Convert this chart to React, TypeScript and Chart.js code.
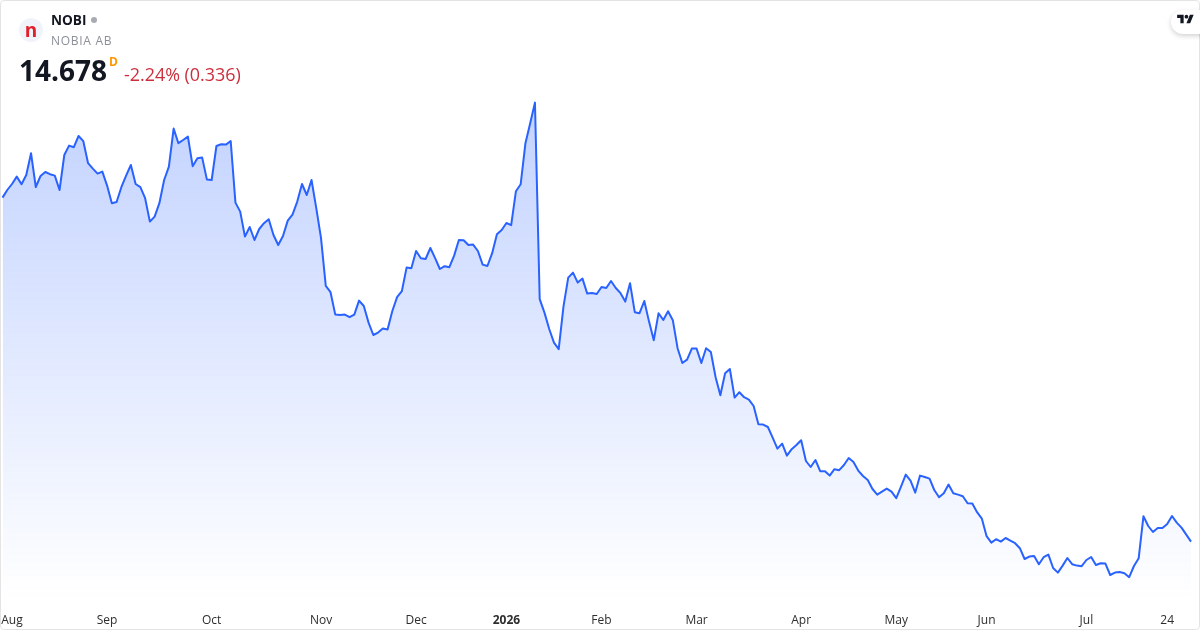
import React, { useEffect, useRef } from "react";
import { Chart, registerables } from "chart.js";

Chart.register(...registerables);

const prices: number[] = [
  31.88, 32.26, 32.56, 32.93, 32.55, 33.01, 34.10, 32.41, 32.96, 33.16, 33.05, 32.98, 32.26, 34.01, 34.48, 34.40, 34.96, 34.70, 33.60, 33.33,
  33.08, 33.18, 32.48, 31.60, 31.66, 32.40, 32.98, 33.51, 32.56, 32.40, 31.85, 30.68, 30.93, 31.60, 32.76, 33.43, 35.33, 34.60, 34.76, 34.93,
  33.45, 33.85, 33.88, 32.78, 32.76, 34.46, 34.55, 34.53, 34.71, 31.63, 31.18, 29.93, 30.41, 29.76, 30.31, 30.60, 30.80, 30.01, 29.51, 29.96,
  30.73, 31.03, 31.68, 32.56, 32.01, 32.76, 31.35, 29.85, 27.47, 27.15, 26.03, 26.01, 26.03, 25.90, 26.03, 26.73, 26.46, 25.63, 25.01, 25.13,
  25.33, 25.28, 26.21, 26.90, 27.20, 28.38, 28.35, 29.21, 28.85, 28.81, 29.36, 28.85, 28.31, 28.45, 28.40, 28.98, 29.76, 29.75, 29.51, 29.53,
  29.21, 28.53, 28.46, 29.10, 30.05, 30.26, 30.61, 30.50, 32.20, 32.55, 34.60, 35.60, 36.63, 26.80, 26.13, 25.31, 24.63, 24.30, 26.43, 27.88,
  28.13, 27.63, 27.83, 27.08, 27.11, 27.06, 27.41, 27.36, 27.71, 27.36, 27.10, 26.68, 27.60, 26.15, 26.10, 26.71, 25.68, 24.75, 26.10, 25.76,
  26.20, 25.75, 24.35, 23.61, 23.78, 24.33, 24.33, 23.61, 24.35, 24.16, 22.90, 22.00, 23.10, 23.31, 21.88, 22.15, 21.90, 21.78, 21.46, 20.55,
  20.53, 20.41, 19.88, 19.33, 19.58, 18.98, 19.30, 19.51, 19.75, 18.71, 18.41, 18.76, 18.20, 18.20, 17.98, 18.30, 18.25, 18.51, 18.86, 18.66,
  18.23, 17.96, 17.76, 17.31, 17.03, 17.18, 17.33, 17.18, 16.85, 17.43, 18.03, 17.73, 17.13, 17.98, 17.91, 17.83, 17.26, 16.90, 17.10, 17.53,
  17.10, 17.03, 16.95, 16.60, 16.58, 16.15, 15.83, 14.95, 14.63, 14.80, 14.68, 14.86, 14.73, 14.60, 14.35, 13.81, 13.93, 13.96, 13.55, 13.90,
  14.03, 13.36, 13.13, 13.48, 13.86, 13.55, 13.48, 13.45, 13.76, 13.91, 13.51, 13.60, 13.58, 13.01, 13.13, 13.16, 13.10, 12.90, 13.46, 13.85,
  15.95, 15.46, 15.16, 15.36, 15.36, 15.56, 15.96, 15.63, 15.38, 15.03, 14.678,
];
const tickLabels: string[] = ["Aug", "Sep", "Oct", "Nov", "Dec", "2026", "Feb", "Mar", "Apr", "May", "Jun", "Jul", "24"];
const tickSessions: number[] = [2, 22, 44, 67, 87, 106, 126, 146, 168, 188, 207, 228, 245];
const symbol = "NOBI";
const companyName = "NOBIA AB";
const lastPrice = "14.678";
const priceChange = "-2.24% (0.336)";

const FONT = '"Open Sans", sans-serif';

export default function App() {
  const ref = useRef<HTMLCanvasElement | null>(null);

  useEffect(() => {
    if (!ref.current) return;
    const chart = new Chart(ref.current, {
      type: "line",
      data: {
        labels: prices.map((_, i) => String(i)),
        datasets: [
          {
            data: prices,
            borderColor: "#2962ff",
            borderWidth: 2,
            borderJoinStyle: "round",
            pointRadius: 0,
            tension: 0,
            fill: "start",
            backgroundColor: (ctx: any) => {
              const area = ctx.chart.chartArea;
              if (!area) return "rgba(41,98,255,0.15)";
              const g = ctx.chart.ctx.createLinearGradient(0, area.top, 0, area.bottom);
              g.addColorStop(0, "rgba(41,98,255,0.34)");
              g.addColorStop(1, "rgba(41,98,255,0)");
              return g;
            },
          },
        ],
      },
      options: {
        responsive: false,
        animation: false,
        devicePixelRatio: 1,
        layout: { padding: { left: 2.5, right: 9, top: 0, bottom: 0 } },
        plugins: { legend: { display: false }, tooltip: { enabled: false } },
        scales: {
          x: {
            type: "category",
            offset: false,
            grid: { display: false },
            border: { display: false },
            afterBuildTicks: (axis: any) => {
              axis.ticks = tickSessions.map((value) => ({ value }));
            },
            afterFit: (axis: any) => {
              axis.paddingLeft = 0;
              axis.paddingRight = 0;
              axis.height = 30;
            },
            ticks: {
              autoSkip: false,
              maxRotation: 0,
              minRotation: 0,
              padding: 5,
              color: "#2e2e2e",
              font: (ctx: any) => ({
                family: FONT,
                size: 12,
                weight: ctx.tick && ctx.tick.label === "2026" ? "bold" : "normal",
              }),
              callback: (_v: any, i: number) => tickLabels[i],
            },
          },
          y: { display: false, min: 11.76, max: 41.76 },
        },
      },
    } as any);
    return () => chart.destroy();
  }, []);

  return (
    <div style={{ position: "fixed", left: 0, top: 0, width: 1200, height: 630, background: "#fff", overflow: "hidden", fontFamily: FONT }}>
      <canvas ref={ref} width={1200} height={630} style={{ position: "absolute", left: 0, top: 0, width: 1200, height: 630 }} />
      <div style={{ position: "absolute", inset: 0, boxSizing: "border-box", border: "1px solid #e4e4e4", borderRadius: 4, pointerEvents: "none" }} />
      <div style={{ position: "absolute", left: 19, top: 18, width: 24, height: 24, borderRadius: 12, background: "#f0f3fa", color: "#e0202a", fontWeight: 700, fontSize: 19, lineHeight: "24px", textAlign: "center" }}>n</div>
      <div style={{ position: "absolute", left: 51, top: 10, fontSize: 13.6, lineHeight: "19px", fontWeight: 700, color: "#131722" }}>{symbol}</div>
      <div style={{ position: "absolute", left: 91, top: 17, width: 6, height: 6, borderRadius: 3, background: "#a8abb3" }} />
      <div style={{ position: "absolute", left: 51, top: 32, fontSize: 12, lineHeight: "18px", letterSpacing: 0.7, color: "#8c8f98" }}>{companyName}</div>
      <div style={{ position: "absolute", left: 19, top: 51, fontSize: 28, lineHeight: "38px", fontWeight: 700, color: "#131722" }}>{lastPrice}</div>
      <div style={{ position: "absolute", left: 109, top: 53, fontSize: 12, lineHeight: "17px", fontWeight: 700, color: "#ff9800" }}>D</div>
      <div style={{ position: "absolute", left: 124, top: 62, fontSize: 17.9, lineHeight: "24px", color: "#cc2f3c" }}>{priceChange}</div>
      <div style={{ position: "absolute", left: 1171, top: 10, width: 44, height: 24, borderRadius: 12, background: "#fff", boxShadow: "0 2px 5px rgba(0,0,0,0.18)" }} />
      <svg style={{ position: "absolute", left: 1177, top: 13 }} width="17" height="13" viewBox="0 0 36 28">
        <path d="M14 22H7V11H0V4h14v18zM28 22h-8l7.5-18h8L28 22z" fill="#131722" />
        <circle cx="20" cy="8" r="4" fill="#131722" />
      </svg>
    </div>
  );
}
